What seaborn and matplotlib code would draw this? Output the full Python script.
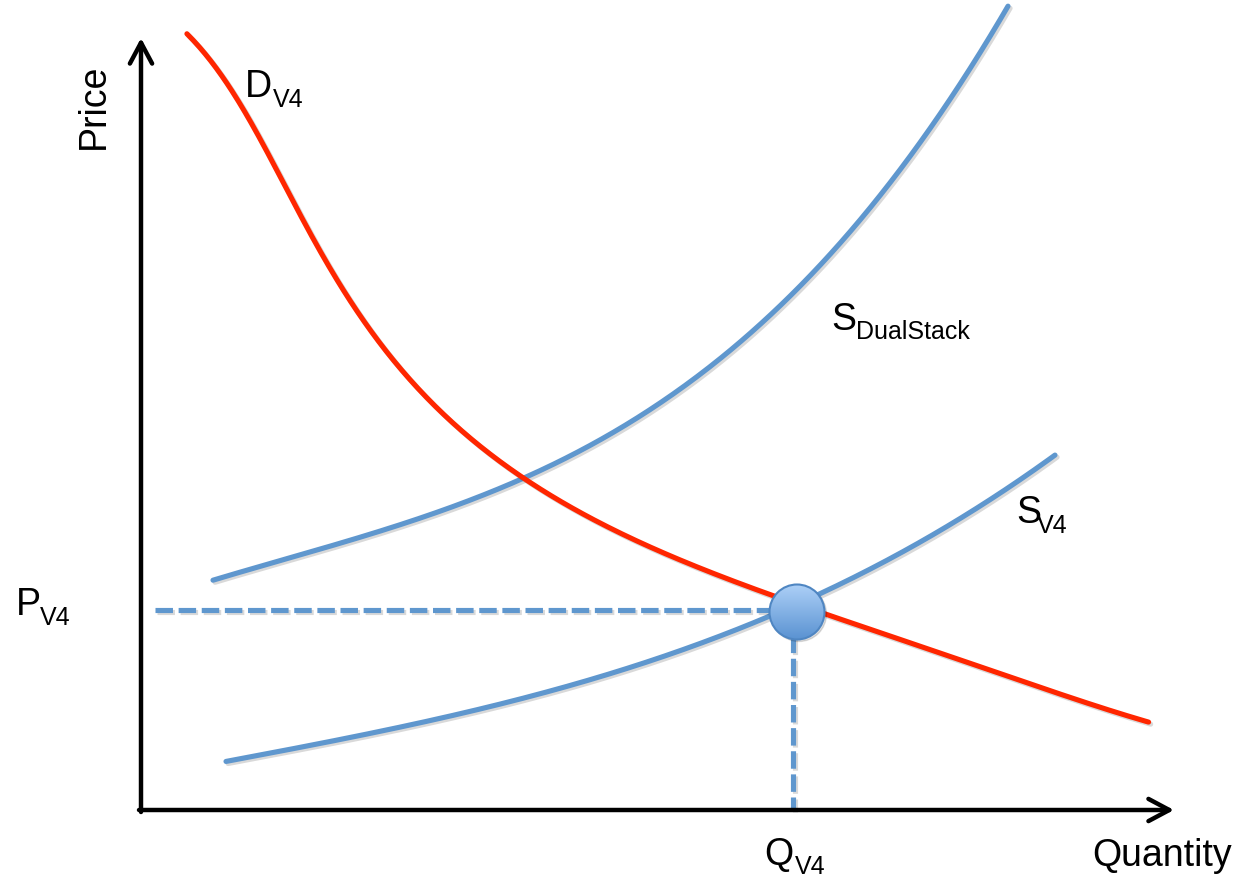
import numpy as np
import pandas as pd
import matplotlib.pyplot as plt
import matplotlib.patheffects as pe
from matplotlib.patches import Circle
import seaborn as sns

# curves (x = quantity, y = price, in picture units, y grows downward)
demand_x = [188, 230, 263, 297, 330, 363, 397, 447, 497, 540, 600, 650, 700, 770, 823, 950, 1050, 1148]
demand_y = [32, 97, 143, 203, 263, 320, 367, 420, 462, 490, 522, 545, 565, 595, 615, 657, 690, 722]

dual_x = [213, 300, 400, 515, 560, 627, 693, 727, 770, 820, 873, 913, 947, 990, 1008]
dual_y = [584, 553, 518, 478, 460, 432, 392, 360, 310, 257, 200, 147, 100, 40, 12]

sv4_x = [226, 350, 500, 600, 700, 767, 817, 900, 980, 1055]
sv4_y = [762, 737, 703, 675, 647, 620, 595, 549, 505, 457]

eq_q, eq_p = 797, 612
origin_x, origin_y = 141, 810

sns.set_style("white")
plt.rcParams['font.family'] = ['Liberation Sans', 'DejaVu Sans']

fig = plt.figure(figsize=(12.38, 8.77), dpi=100)
ax = fig.add_axes([0, 0, 1, 1])

blue = '#5f97ce'
red = '#ff2600'
shadow = [pe.SimpleLineShadow(offset=(1.5, -1.5), alpha=0.15), pe.Normal()]


def smooth(xs, ys, deg, along='x'):
    # least-squares polynomial through the read points, so the drawn line stays smooth
    xs, ys = np.asarray(xs, float), np.asarray(ys, float)
    if along == 'x':
        q = np.linspace(xs[0], xs[-1], 400)
        p = np.polyval(np.polyfit(xs, ys, deg), q)
    else:
        # fit along the chord length for the steep demand curve
        t = np.concatenate([[0], np.cumsum(np.hypot(np.diff(xs), np.diff(ys)))])
        t /= t[-1]
        tt = np.linspace(0, 1, 400)
        q = np.polyval(np.polyfit(t, xs, deg), tt)
        p = np.polyval(np.polyfit(t, ys, deg), tt)
    return pd.DataFrame({'q': q, 'p': p})


curves = [
    (smooth(dual_x, dual_y, 3), blue),
    (smooth(sv4_x, sv4_y, 3), blue),
    (smooth(demand_x, demand_y, 5, along='chord'), red),
]
for df, c in curves:
    sns.lineplot(data=df, x='q', y='p', sort=False, color=c, lw=3.7, ax=ax, path_effects=shadow)

# dashed guides
dash = (0, (3.4, 1.1))
ax.plot([155, eq_q], [eq_p - 2, eq_p - 2], color=blue, lw=3.7, ls=dash, path_effects=shadow)
ax.plot([eq_q - 4, eq_q - 4], [eq_p, origin_y], color=blue, lw=3.7, ls=dash, path_effects=shadow)

# equilibrium point with a light-to-dark gradient
r = 27.5
ax.add_patch(Circle((eq_q + 2, eq_p + 2), r, color='black', alpha=0.12, zorder=4))
grad = np.linspace(0, 1, 100).reshape(-1, 1)
img = ax.imshow(grad, cmap=sns.blend_palette(['#add0f7', '#5b93d2'], as_cmap=True),
                extent=(eq_q - r, eq_q + r, eq_p + r, eq_p - r), origin='upper',
                aspect='auto', zorder=5)
img.set_clip_path(Circle((eq_q, eq_p), r, transform=ax.transData))
ax.add_patch(Circle((eq_q, eq_p), r, facecolor='none', edgecolor='#4f86c2', lw=1.5, zorder=6))

# axes arrows
arrow = dict(arrowstyle='->,head_length=1.5,head_width=0.8', lw=3.2, color='black',
             shrinkA=0, shrinkB=0)
ax.annotate('', xy=(origin_x, 38), xytext=(origin_x, origin_y + 2), arrowprops=arrow)
ax.annotate('', xy=(1174, origin_y), xytext=(origin_x - 2, origin_y), arrowprops=arrow)

big, small = 27, 18
ax.text(94, 106, 'Price', rotation=90, fontsize=big, ha='center', va='center', color='black')
ax.text(1092, 866, 'Quantity', fontsize=big, va='baseline', color='black')

labels = [
    ('D', 245, 97, 'V4', 273, 107),
    ('S', 831, 330, 'DualStack', 856, 339),
    ('S', 1016, 523, 'V4', 1037, 533),
    ('P', 16, 615, 'V4', 40, 625),
    ('Q', 764, 865, 'V4', 795, 874),
]
for main, mx, my, sub, sx, sy in labels:
    ax.text(mx, my, main, fontsize=big, va='baseline', color='black')
    ax.text(sx, sy, sub, fontsize=small, va='baseline', color='black')

ax.set_xlim(0, 1238)
ax.set_ylim(877, 0)
ax.axis('off')

fig.savefig('out.png', dpi=100)
